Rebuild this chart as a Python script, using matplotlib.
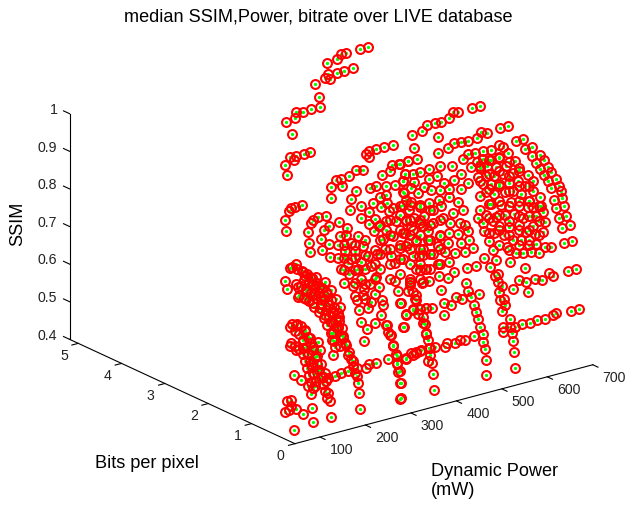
import numpy as np
import matplotlib
matplotlib.use("Agg")
import matplotlib.pyplot as plt
from mpl_toolkits.mplot3d import proj3d

plt.rcParams['font.family'] = ['Liberation Sans', 'DejaVu Sans']

# values (bits in 1/100, ssim in 1/1000)
power_mw = [
    693,675,638,625,612,585,634,612, 594,573,570,560,530,522,512,489, 468,452,443,418,417,433,417,396,
    382,386,360,352,623,601,580,564, 553,552,525,509,488,466,455,458, 432,419,561,584,597,614,635,611,
    598,577,555,533,517,482,461,446, 475,459,485,489,467,529,544,537, 585,347,329,319,309,290,384,366,
    351,344,404,379,416,504,518,530, 559,510,532,556,489,582,553,694, 694,694,693,693,693,694,694,693,
    677,694,667,693,658,635,616,693, 693,694,694,693,693,693,694,693, 693,694,693,693,693,693,694,694,
    693,693,693,693,694,693,694,693, 693,694,694,693,694,693,694,693, 693,693,693,693,693,694,694,693,
    693,694,694,694,693,693,694,693, 694,693,694,694,693,693,694,693, 694,693,693,694,693,694,693,693,
    694,693,693,693,693,693,694,693, 693,693,693,693,693,693,694,693, 693,693,693,693,694,693,693,693,
    694,693,694,693,693,693,693,693, 693,693,694,693,693,693,693,693, 694,693,693,693,693,693,693,693,
    693,693,694,694,693,693,693,693, 693,693,694,673,649,630,611,598, 623,659,680,688,607,586,638,690,
    668,649,616,590,568,576,603,628, 655,681,693,693,680,677,669,643, 648,652,634,609,611,600,576,554,
    639,667,627,584,559,536,551,578, 592,618,621,599,570,547,524,522, 670,648,650,
    589,693,693,693,693,694,693,694, 693,694,693,694,693,682,668,669, 660,664,652,657,658,647,633,624,
    644,635,623,604,688,680,678,693, 679,678,649,628,693,693,693,693, 693,693,693,678,606,601,600,621,
    596,592,587,581,578,568,563,550, 533,554,531,520,504,488,479,457, 443,417,408,396,376,429,417,399,
    435,442,450,453,463,469,472,475, 478,479,500,486,455,435,516,413, 534,545,567,576,542,574,556,527,
    511,537,521,596,596,569,484,439, 348,335,315,277,325,363,314,302, 345,332,356,342,389,375,381,359,
    350,373,406,403,362,404,429,427, 425,448,420,416,410,401,344,336, 358,374,364,355,381,386,385,402,
    393,376,437,412,308,325,329,354, 379,377,372,365,360,350,343,333, 314,395,373,239,258,262,270,284,
    297,300,301,299,285,269,250,238, 236,222,212,206,232,219,235,244, 252,254,260,266,245,260,271,277,
    275,261,269,279,287,265,262, 255,258,258,248,240,229,211,247, 163,180,191,192,189,184,183,180,
    173,163,155,136,175,169,161,155, 138,147,165,199,206,109,120,127, 123,107,92,142,172,181,198,217,
    234,278,291,307,337,352,379,397, 407,422,61,70,51,53,75,70, 63,50,489,500,471,479,506,532,
    559,582,471,477,506,530,553,555, 476,499,453,447,469,481,539,533, 515,484,513,473,435,457,461,460,
    486,455,423,
]
bits_x100 = [
    512,510,505,503,497,492,485,481, 479,477,470,471,463,446,432,429, 426,425,418,412,396,372,369,366,
    364,361,353,341,381,379,375,373, 368,362,347,347,339,335,335,325, 324,309,341,346,355,356,359,341,
    332,327,326,326,323,318,308,293, 298,282,291,281,273,311,313,303, 316,300,297,296,291,279,285,284,
    280,276,276,271,269,302,298,291, 298,278,278,280,271,307,307,255, 272,305,316,324,343,359,376,387,
    394,350,377,351,362,359,356,189, 206,238,251,261,280,297,315,326, 293,282,154,171,133,150,116,133,
    106,123,96,114,89,106,79,96, 71,89,66,83,64,60,79,54, 71,46,64,40,58,89,103,264,
    247,228,211,201,189,208,228,247, 261,274,255,238,216,193,174,162, 143,131,177,201,220,241,257,247,
    228,208,185,166,150,131,116,112, 108,104,108,123,239,220,197,177, 158,139,131,123,228,204,181,162,
    143,174,197,216,154,131,127,208, 185,162,147,177,198,158,139,191, 170,154,135,117,222,269,280,297,
    258,247,241,224,243,220,233,314, 297,318,346,349,345,342,341,332, 331,336,339,330,322,318,324,321,
    320,320,316,304,300,293,298,302, 307,311,304,293,273,264,252,236, 249,261,262,258,276,284,282,278,
    282,289,293,271,267,262,251,253, 244,249,236,236,233,232,231,244, 276,276,298,
    264,32,50,85,94,110,127,147, 162,143,149,184,177,190,182,173, 172,164,158,147,136,136,136,128,
    127,116,101,79,207,204,196,216, 216,228,217,214,25,44,77,85, 102,121,137,140,194,184,176,180,
    164,156,146,136,125,115,106,90, 70,122,118,118,113,113,108,108, 107,102,101,100,92,87,72,51,
    97,107,118,125,139,149,160,171, 182,191,161,160,158,152,151,135, 168,164,176,172,185,201,204,197,
    195,213,212,210,222,220,196,168, 76,60,39,264,264,266,249,236, 254,239,247,230,258,247,238,229,
    213,222,249,238,207,260,258,244, 231,234,218,202,189,172,171,158, 160,169,178,191,200,213,227,222,
    193,187,168,136,116,141,132,140, 151,138,124,109,96,84,75,60, 39,164,129,216,220,209,202,202,
    196,184,173,162,149,136,127,118, 109,98,197,187,189,176,173,167, 160,151,142,136,184,180,176,167,
    153,204,193,189,182,124,113, 98,89,80,69,59,45,24,109, 136,138,131,120,109,96,84,73,
    62,47,35,13,118,100,84,73, 109,104,107,104,116,70,64,56, 44,25,7,56,68,66,69,73,
    76,80,86,87,91,86,93,98, 100,104,36,36,29,22,13,24, 29,8,271,267,264,253,258,262,
    271,276,240,231,242,249,253,240, 222,227,198,184,184,178,231,213, 213,196,196,173,152,160,153,140,
    160,127,89,
]
ssim_x1000 = [
    974,975,979,981,976,977,951,954, 955,960,950,955,953,932,916,918, 920,924,916,916,893,854,855,858,
    860,853,851,835,807,809,811,814, 810,808,788,793,789,790,790,779, 786,769,768,769,776,771,770,753,
    744,743,749,755,757,761,754,736, 734,716,720,705,702,736,734,721, 726,778,779,781,778,767,745,748,
    748,744,726,727,711,731,720,707, 707,694,687,682,691,712,701,954, 940,910,907,885,864,852,839,817,
    807,822,786,778,767,770,772,937, 922,892,886,865,847,836,824,804, 793,811,921,906,909,896,899,885,
    889,874,878,863,867,851,854,839, 841,825,828,796,810,792,776,769, 754,748,732,711,695,668,661,825,
    840,852,874,875,864,841,826,817, 802,781,789,804,813,827,850,839, 831,821,818,801,787,776,765,751,
    761,772,788,802,798,795,785,765, 750,726,698,659,734,739,755,770, 772,764,751,733,709,717,738,739,
    744,711,694,680,709,701,683,659, 671,687,677,640,642,650,660,613, 608,617,629,636,589,569,736,712,
    654,647,671,664,627,635,606,727, 751,762,745,744,746,748,753,744, 734,729,727,712,727,727,720,698,
    704,710,714,707,707,695,692,691, 689,687,674,658,633,621,607,592, 608,625,632,633,658,675,679,680,
    659,659,679,661,662,663,643,637, 620,618,597,605,611,616,622,642, 639,646,678,
    650,639,625,594,596,568,563,544, 541,518,581,577,509,513,506,493, 494,482,473,458,442,445,450,442,
    434,422,404,379,534,534,522,566, 552,569,562,565,537,521,498,488, 470,457,440,441,543,531,518,518,
    504,492,480,467,453,441,430,412, 388,457,458,461,460,465,460,468, 470,472,473,475,471,445,428,403,
    458,470,483,494,509,522,537,552, 567,580,529,533,539,538,510,520, 529,520,529,522,551,563,574,572,
    574,593,597,569,587,592,584,558, 455,437,413,750,733,724,715,702, 713,695,699,679,704,692,678,672,
    653,658,686,671,639,702,691,673, 654,651,637,616,598,577,594,577, 574,581,597,619,624,641,661,649,
    610,606,559,521,526,558,543,546, 554,536,518,498,480,468,456,438, 413,568,524,691,692,675,663,658,
    644,628,611,596,581,567,560,551, 539,528,674,661,656,640,632,620, 608,594,580,568,645,634,624,609,
    591,669,650,640,628,553,538, 517,504,491,478,467,451,426,536, 601,599,586,570,554,537,522,507,
    493,473,459,434,572,548,529,515, 571,562,559,545,558,525,511,498, 483,461,439,493,500,495,494,495,
    492,484,488,485,482,469,471,472, 472,472,490,489,466,474,461,472, 480,430,691,681,688,669,666,665,
    669,667,652,638,644,646,645,625, 625,624,597,580,573,560,618,594, 600,584,575,556,537,542,531,512,
    533,494,451,
]

# the solid clumps, read as runs at one bitrate each
power_b100 = [
    135,144,153,162,169,175,180,184,188,193,197,201,206,210, 140,149,158,164,169,173,177,182,186,
    131,140,149,158,162,166,171,175,180, 245,252,259,263,267,272, 342,351,355,362,
    547,547,547,547, 568,568,568,568,568,568, 590,590,590,590,590,590,590,
    612,612,612,612,612,612,612, 634,634,634,634,634,634, 656,656,656,656,656, 678,678,678,
]
ssim_b100 = [
    637,632,624,608,590,572,553,533,513,494,474,454,435,415, 615,604,586,566,546,526,507,487,467,
    586,576,565,549,530,510,490,470,451, 563,543,522,502,483,463, 566,537,509,484,
    923,884,845,806, 934,895,856,817,778,739, 935,896,857,818,779,739,700,
    915,876,837,798,758,719,680, 882,843,804,764,725,686, 836,797,757,718,679, 777,737,698,
]
power_b150 = [
    181,192,203,214,225,236,247,258,267,275,282,286,291,293, 190,201,212,223,234,245,256,264,271,
    209,220,231,242,253,262,271,278,282, 198,209,220,231,242,251,258,267,273,
    297,297,297,297, 319,319,319,319,319, 341,341,341,341,341, 363,363,363,363,
]
ssim_b150 = [
    746,737,728,717,703,686,670,650,632,611,591,568,549,527, 698,690,678,664,648,628,609,588,568,
    703,691,675,658,639,620,599,579,557, 667,656,642,625,606,587,567,543,520,
    768,734,700,666, 761,727,693,660,626, 767,728,689,650,610, 734,695,656,617,
]
power_b200 = [
    466,466,466,466,466, 488,488,488,488,488,488, 510,510,510,510,510,510, 532,532,532,532,532,
    554,554,554,554, 444,444,444,444,444, 422,422,422,422,
]
ssim_b200 = [
    766,727,688,649,610, 785,746,707,668,629,590, 778,739,700,661,622,583, 758,719,680,641,602,
    725,686,647,608, 760,721,682,643,604, 754,715,676,637,
]

power_ticks = [100, 200, 300, 400, 500, 600, 700]
bits_ticks = [0, 1, 2, 3, 4, 5]
ssim_ticks = [0.4, 0.5, 0.6, 0.7, 0.8, 0.9, 1.0]
ssim_labels = ['0.4', '0.5', '0.6', '0.7', '0.8', '0.9', '1']

P_MIN, P_MAX = 45, 700
B_MIN, B_MAX = 0, 5.2
S_MIN, S_MAX = 0.4, 1.0

power = np.concatenate([power_mw, power_b100, power_b150, power_b200])
bits = np.concatenate([np.array(bits_x100) / 100, np.full(len(power_b100), 1.0),
                       np.full(len(power_b150), 1.5), np.full(len(power_b200), 2.0)])
ssim = np.concatenate([ssim_x1000, ssim_b100, ssim_b150, ssim_b200]) / 1000

fig = plt.figure(figsize=(6.27, 5.05), dpi=100)
ax = fig.add_axes([12.8 / 627, -52.6 / 505, 620 / 627, 620 / 505], projection='3d')
ax.set_proj_type('ortho')
ax.view_init(elev=20.5, azim=232.9)
ax.set_box_aspect((1, 1, 0.645), zoom=0.909)
ax.computed_zorder = False
ax.set_xlim(P_MIN, P_MAX)
ax.set_ylim(B_MIN, B_MAX)
ax.set_zlim(S_MIN, S_MAX)
ax.set_axis_off()


def label(x, y, z, text, ha='center'):
    x2, y2, _ = proj3d.proj_transform(x, y, z, ax.get_proj())
    ax.text2D(x2, y2, text, transform=ax.transData, fontsize=10.2, ha=ha, va='center', color='#222222')


# box edges
ax.plot([P_MIN, P_MAX], [B_MIN, B_MIN], [S_MIN, S_MIN], color='k', lw=0.8, zorder=1)
ax.plot([P_MIN, P_MIN], [B_MIN, B_MAX], [S_MIN, S_MIN], color='k', lw=0.8, zorder=1)
ax.plot([P_MIN, P_MIN], [B_MAX, B_MAX], [S_MIN, S_MAX], color='k', lw=0.8, zorder=1)

for p in power_ticks:
    ax.plot([p, p], [B_MIN, B_MIN - 0.12], [S_MIN, S_MIN], color='k', lw=0.8, zorder=1)
    label(p, -0.5, 0.391, str(p))
for b in bits_ticks:
    ax.plot([P_MIN, P_MIN - 14], [b, b], [S_MIN, S_MIN], color='k', lw=0.8, zorder=1)
    label(14, b, 0.376, str(b))
for s, lab in zip(ssim_ticks, ssim_labels):
    ax.plot([P_MIN, P_MIN], [B_MAX, B_MAX + 0.14], [s, s], color='k', lw=0.8, zorder=1)
    label(P_MIN, B_MAX + 0.28, s - 0.005, lab, ha='right')

ax.plot(power, bits, ssim, 'o', color=(0, 1, 0), ms=2.4, mec='none', zorder=2)
ax.plot(power, bits, ssim, 'o', mfc='none', mec='red', ms=6.4, mew=1.5, zorder=3)

fig.text(318 / 627, 1 - 17 / 505, 'median SSIM,Power, bitrate over LIVE database', fontsize=13.1, ha='center', va='center')
fig.text(18 / 627, 1 - 224 / 505, 'SSIM', fontsize=13.1, rotation=90, ha='center', va='center')
fig.text(147 / 627, 1 - 464 / 505, 'Bits per pixel', fontsize=13.1, ha='center', va='center')
fig.text(431 / 627, 1 - 481 / 505, 'Dynamic Power\n(mW)', fontsize=13.1, ha='left', va='center')

fig.savefig('out.png', dpi=100)
